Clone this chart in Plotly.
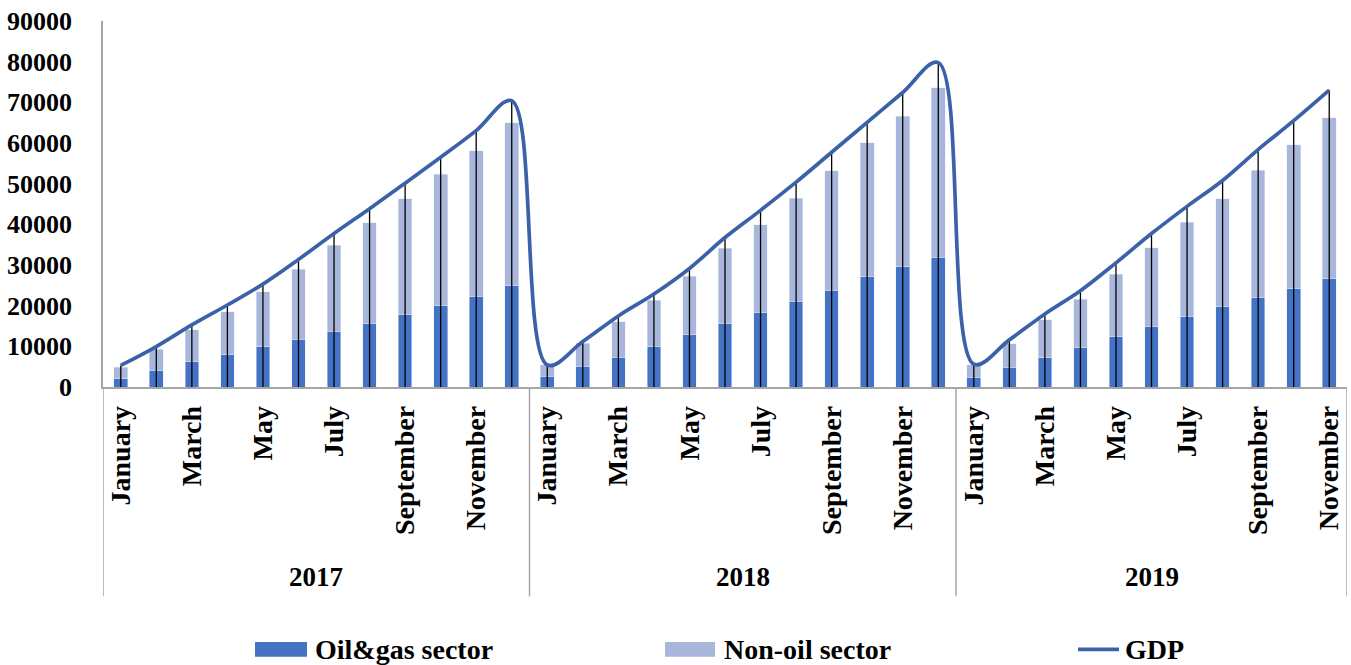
import plotly.graph_objects as go

years = ["2017", "2018", "2019"]
month_names = ["January", "February", "March", "April", "May", "June", "July",
               "August", "September", "October", "November", "December"]
months_per_year = [12, 12, 11]

oil_gas = [2030, 4070, 6270, 7910, 9950, 11590, 13620, 15510, 17710, 19990, 22370, 24890,
           2600, 5050, 7350, 9950, 12810, 15680, 18280, 21140, 23840, 27100, 29550, 31850,
           2350, 4800, 7250, 9700, 12400, 14850, 17300, 19750, 21950, 24160, 26610]
non_oil = [2770, 5240, 7770, 10610, 13470, 17390, 21240, 24910, 28590, 32270, 35770, 40110,
           2860, 5730, 8650, 11440, 14460, 18380, 21660, 25310, 29320, 32930, 37090, 41720,
           3110, 5810, 9240, 11930, 15290, 19450, 23270, 26550, 31290, 35380, 39610]
gdp = [5300, 9950, 15260, 20160, 25310, 31360, 37730, 43850, 50130, 56500, 63040, 70400,
       5400, 11170, 17470, 22860, 29150, 36750, 43440, 50370, 57720, 65070, 72420, 79770,
       5600, 11590, 17960, 23670, 30530, 37730, 44420, 50790, 58380, 65500, 73010]

y_ticks = [0, 10000, 20000, 30000, 40000, 50000, 60000, 70000, 80000, 90000]

# category positions
labels = []
for y, n in zip(years, months_per_year):
    for m in range(n):
        labels.append(month_names[m])
x = list(range(len(labels)))
tickvals = [i for i in x if month_names.index(labels[i]) % 2 == 0]
ticktext = [labels[i] for i in tickvals]

FONT = "Liberation Serif"
C_OIL = "#4472C4"
C_NON = "#A9B6DC"
C_GDP = "#3B62A8"
C_AX = "#A6A6A6"

fig = go.Figure()
fig.add_trace(go.Bar(x=x, y=oil_gas, name="Oil&gas sector", marker_color=C_OIL,
                     width=0.385, showlegend=False))
fig.add_trace(go.Bar(x=x, y=non_oil, name="Non-oil sector", marker_color=C_NON,
                     width=0.385, showlegend=False))
# drop lines from GDP to axis
fig.add_trace(go.Scatter(x=x, y=gdp, mode="markers", marker=dict(size=1, color="rgba(0,0,0,0)"),
                         error_y=dict(type="data", symmetric=False, array=[0] * len(gdp),
                                      arrayminus=gdp, color="#000000", thickness=1.3, width=0),
                         showlegend=False, hoverinfo="skip"))
fig.add_trace(go.Scatter(x=x, y=gdp, mode="lines", name="GDP",
                         line=dict(color=C_GDP, width=3.7, shape="spline", smoothing=1),
                         showlegend=False))

fig.update_layout(
    barmode="stack",
    width=1351, height=665,
    margin=dict(l=103, r=4, t=21, b=277.5),
    plot_bgcolor="white", paper_bgcolor="white",
    font=dict(family=FONT, size=26, color="#000000"),
    xaxis=dict(range=[-0.5, len(x) - 0.5], tickmode="array", tickvals=tickvals, ticktext=ticktext,
               tickangle=-90, showgrid=False, zeroline=False, showline=True, linecolor=C_AX,
               linewidth=1.5, ticks="", ticklabelstandoff=6, automargin=False,
               ticklabeloverflow="allow",
               tickfont=dict(family=FONT, size=28, weight="bold")),
    yaxis=dict(range=[0, 90000], tickvals=y_ticks, tickformat="d", showgrid=False, zeroline=False,
               showline=True, linecolor=C_AX, linewidth=1.5, ticks="",
               ticklabelstandoff=24, automargin=False, ticklabeloverflow="allow",
               tickfont=dict(family=FONT, size=26, weight="bold")),
)

# year group dividers and labels
bounds = [-0.5]
start = 0
for y, n in zip(years, months_per_year):
    end = start + n
    bounds.append(end - 0.5)
    fig.add_annotation(x=(start + end - 1) / 2, y=-0.52, xref="x", yref="paper",
                       yanchor="middle", xanchor="center",
                       text="<b>%s</b>" % y, showarrow=False,
                       font=dict(family=FONT, size=27, color="#000000"))
    start = end
for b in bounds:
    fig.add_shape(type="line", x0=b, x1=b, y0=0, y1=-0.572, xref="x", yref="paper",
                  line=dict(color=C_AX, width=1.5))

# custom legend
leg_y0, leg_y1, leg_yc = -0.697, -0.737, -0.717
legend_items = [
    ("rect", C_OIL, 0.1222, 0.164, "Oil&gas sector", 0.1688),
    ("rect", C_NON, 0.4518, 0.4920, "Non-oil sector", 0.4976),
    ("line", C_GDP, 0.7838, 0.8167, "GDP", 0.8199),
]
for kind, col, x0, x1, txt, tx in legend_items:
    if kind == "rect":
        fig.add_shape(type="rect", xref="paper", yref="paper", x0=x0, x1=x1, y0=leg_y1, y1=leg_y0,
                      fillcolor=col, line=dict(width=0))
    else:
        fig.add_shape(type="line", xref="paper", yref="paper", x0=x0, x1=x1, y0=leg_yc, y1=leg_yc,
                      line=dict(color=col, width=3.7))
    fig.add_annotation(x=tx, y=leg_yc, xref="paper", yref="paper", xanchor="left", yanchor="middle",
                       text="<b>%s</b>" % txt, showarrow=False,
                       font=dict(family=FONT, size=28, color="#000000"))

fig.write_html("out.html", config={"displayModeBar": False},
               post_script="document.body.style.margin='0px';document.body.style.overflow='hidden';")
